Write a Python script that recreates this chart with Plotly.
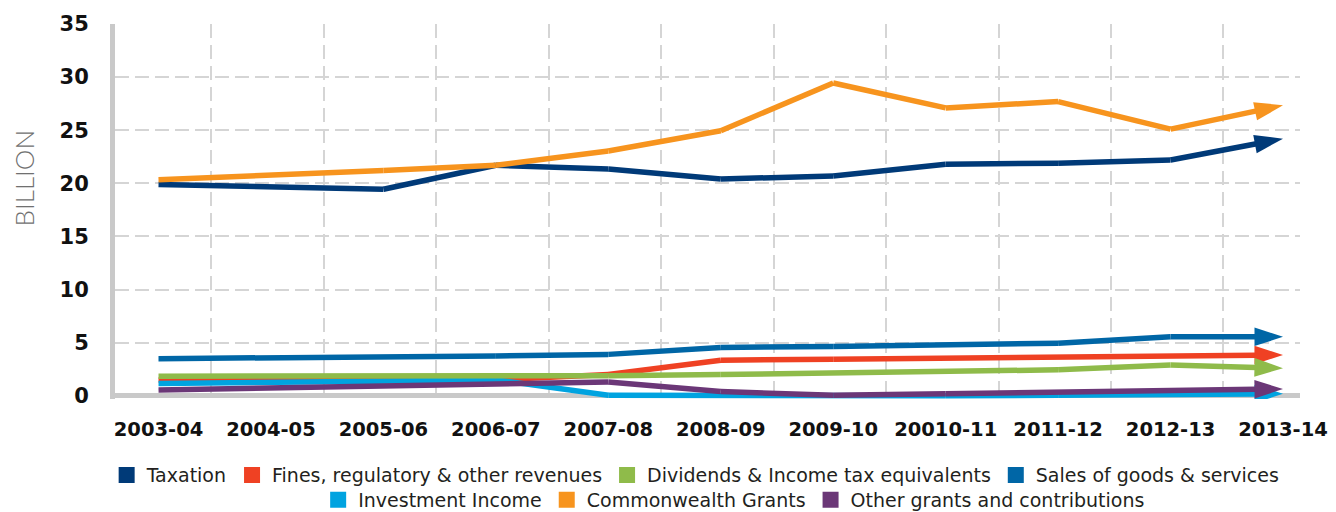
import plotly.graph_objects as go

years = ["2003-04", "2004-05", "2005-06", "2006-07", "2007-08", "2008-09",
         "2009-10", "20010-11", "2011-12", "2012-13", "2013-14"]

taxation = [19.9, 19.7, 19.45, 21.7, 21.35, 20.4, 20.7, 21.8, 21.9, 22.2, 24.2]
fines = [1.5, 1.5, 1.5, 1.5, 2.0, 3.35, 3.45, 3.55, 3.65, 3.8, 3.85]
dividends = [1.85, 1.85, 1.85, 1.85, 1.9, 2.0, 2.15, 2.3, 2.45, 2.9, 2.6]
sales = [3.5, 3.55, 3.65, 3.75, 3.9, 4.55, 4.65, 4.8, 4.95, 5.55, 5.55]
investment = [1.15, 1.25, 1.35, 1.5, 0.05, 0.0, 0.0, 0.0, 0.05, 0.1, 0.2]
commonwealth = [20.35, 20.75, 21.2, 21.7, 23.05, 24.95, 29.45, 27.1, 27.7, 25.1, 27.35]
other = [0.55, 0.75, 0.95, 1.15, 1.3, 0.4, 0.05, 0.2, 0.35, 0.5, 0.65]

y_ticks = [0, 5, 10, 15, 20, 25, 30, 35]

# (name, values, colour, legend, legend rank) in drawing order
series = [
    ("Fines, regulatory & other revenues", fines, "#ef4123", "legend", 2),
    ("Investment Income", investment, "#00a3e0", "legend2", 5),
    ("Dividends & Income tax equivalents", dividends, "#8fbb4a", "legend", 3),
    ("Other grants and contributions", other, "#6b3777", "legend2", 7),
    ("Sales of goods & services", sales, "#0066a6", "legend", 4),
    ("Taxation", taxation, "#003a78", "legend", 1),
    ("Commonwealth Grants", commonwealth, "#f7941e", "legend2", 6),
]

xs = list(range(len(years)))
fig = go.Figure()

for name, vals, col, lg, rank in series:
    n = len(vals)
    fig.add_trace(go.Scatter(
        x=xs, y=vals, mode="lines+markers", name=name, showlegend=False,
        line=dict(color=col, width=5.5),
        marker=dict(symbol="arrow", angleref="previous", color=col, opacity=1,
                    size=[0] * (n - 1) + [30], line=dict(width=0)),
        hoverinfo="skip",
    ))

# legend swatches
for name, vals, col, lg, rank in sorted(series, key=lambda s: s[4]):
    fig.add_trace(go.Scatter(
        x=[None], y=[None], mode="markers", name=name, legend=lg,
        marker=dict(symbol="square", size=16, color=col), legendrank=rank,
    ))

grid_col = "#d5d5d5"
axis_col = "#c9c9c9"
leg_font = dict(family="DejaVu Sans", size=19, color="#231f20")

# the page body adds an 8px margin, so the figure is 8px smaller each way
fig.update_layout(
    width=1328, height=504,
    margin=dict(l=107, r=36, t=16, b=113, autoexpand=False),
    plot_bgcolor="white", paper_bgcolor="white",
    xaxis=dict(
        range=[-0.387, 10.151], automargin=False,
        tickmode="array", tickvals=xs, ticktext=years,
        showgrid=False, zeroline=False, showline=False, ticks="",
        ticklabelstandoff=16,
        tickfont=dict(family="DejaVu Sans", size=19.5, color="#111111", weight="bold"),
        minor=dict(tickmode="array", tickvals=[i + 0.47 for i in range(len(years) - 1)],
                   showgrid=True, gridcolor=grid_col, griddash="14px,7px", gridwidth=2,
                   ticks=""),
    ),
    yaxis=dict(
        range=[-0.3, 35], automargin=False, tickmode="array", tickvals=y_ticks,
        showgrid=True, gridcolor=grid_col, griddash="14px,6px", gridwidth=2,
        zeroline=True, zerolinecolor=axis_col, zerolinewidth=5,
        showline=True, linecolor=axis_col, linewidth=5,
        ticks="", ticklabelstandoff=17,
        tickfont=dict(family="DejaVu Sans", size=21, color="#111111", weight="bold"),
    ),
    legend=dict(orientation="h", x=0.490, xanchor="center",
                yref="container", y=0.111, yanchor="top",
                font=leg_font, bgcolor="rgba(0,0,0,0)", itemsizing="trace"),
    legend2=dict(orientation="h", x=0.5225, xanchor="center",
                 yref="container", y=0.0615, yanchor="top",
                 font=leg_font, bgcolor="rgba(0,0,0,0)", itemsizing="trace"),
    annotations=[dict(
        text="BILLION", textangle=-90, xref="paper", yref="paper",
        x=-0.0765, y=0.589, xanchor="center", yanchor="middle", showarrow=False,
        font=dict(family="Lato", weight=300, size=26, color="#707070"),
    )],
)

fig.write_html("out.html")
